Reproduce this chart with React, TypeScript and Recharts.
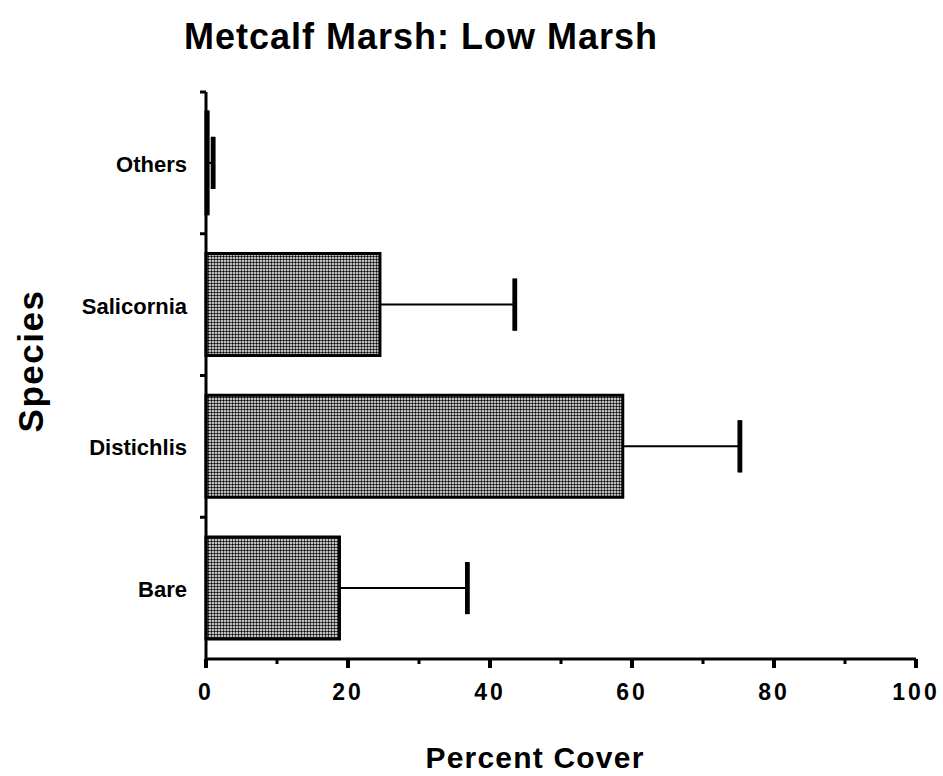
import React from 'react';
import { BarChart, Bar, XAxis, YAxis, ErrorBar } from 'recharts';

// Mean percent cover per species with the upper end of each error bar
const species = ['Others', 'Salicornia', 'Distichlis', 'Bare'];
const meanCover = [0.3, 24.5, 58.7, 18.8];
const upperCover = [1.0, 43.5, 75.2, 36.8];
const coverTicks = [0, 10, 20, 30, 40, 50, 60, 70, 80, 90, 100];

const data = species.map((name, i) => {
  const spread = upperCover[i] - meanCover[i];
  return {
    name,
    cover: meanCover[i],
    // one-sided whisker from the bar end to the upper value
    err: [0, spread],
    // zero-length range sitting on the upper value, used for the heavy end cap
    cap: [-spread, spread],
  };
});

const W = 943;
const H = 776;
const margin = { top: 92, right: 27, bottom: 77, left: 86 };
const Y_AXIS_W = 120;
const X_AXIS_H = 40;
const plotH = H - margin.top - margin.bottom - X_AXIS_H;
const bandH = plotH / species.length;
const FONT = '"Liberation Sans", Arial, Helvetica, sans-serif';

const XTick = (props: any) => {
  const { x, y, payload } = props;
  const major = payload.value % 20 === 0;
  return (
    <g>
      <line x1={x} x2={x} y1={y} y2={y + (major ? 9 : 5)} stroke="#000" strokeWidth={major ? 4 : 3} />
      {major && (
        <text
          x={x}
          y={y + 41}
          dx={0}
          textAnchor="middle"
          fontFamily={FONT}
          fontWeight="bold"
          fontSize={23}
          letterSpacing={3}
          fill="#000"
        >
          {payload.value}
        </text>
      )}
    </g>
  );
};

const YTick = (props: any) => {
  const { x, y, payload } = props;
  const top = y - bandH / 2;
  return (
    <g>
      <line x1={x - 6} x2={x} y1={top} y2={top} stroke="#000" strokeWidth={3} />
      <text
        x={x - 19}
        y={y}
        dy={9}
        textAnchor="end"
        fontFamily={FONT}
        fontWeight="bold"
        fontSize={22}
        fill="#000"
      >
        {payload.value}
      </text>
    </g>
  );
};

export default function App() {
  return (
    <div style={{ position: 'absolute', left: 0, top: 0, width: W, height: H, background: '#fff' }}>
      <BarChart width={W} height={H} data={data} layout="vertical" margin={margin} barCategoryGap="14%">
        <defs>
          <pattern id="stipple" width="3" height="3" patternUnits="userSpaceOnUse">
            <rect width="3" height="3" fill="#fff" />
            <circle cx="1.5" cy="1.5" r="1.2" fill="#000" />
          </pattern>
        </defs>
        <XAxis
          type="number"
          domain={[0, 100]}
          ticks={coverTicks}
          interval={0}
          height={X_AXIS_H}
          tickSize={0}
          tickMargin={0}
          tickLine={false}
          tick={<XTick />}
          axisLine={{ stroke: '#000', strokeWidth: 3 }}
        />
        <YAxis
          type="category"
          dataKey="name"
          width={Y_AXIS_W}
          interval={0}
          tickSize={0}
          tickMargin={0}
          tickLine={false}
          tick={<YTick />}
          axisLine={{ stroke: '#000', strokeWidth: 3 }}
        />
        <Bar dataKey="cover" fill="url(#stipple)" stroke="#000" strokeWidth={3} isAnimationActive={false}>
          <ErrorBar dataKey="err" direction="x" width={0} stroke="#000" strokeWidth={2} isAnimationActive={false} />
          <ErrorBar dataKey="cap" direction="x" width={26} stroke="#000" strokeWidth={4.5} isAnimationActive={false} />
        </Bar>
      </BarChart>
      <svg
        width={W}
        height={H}
        style={{ position: 'absolute', left: 0, top: 0, pointerEvents: 'none' }}
      >
        <text x={421} y={49} textAnchor="middle" fontFamily={FONT} fontWeight="bold" fontSize={36} letterSpacing={1} fill="#000">
          Metcalf Marsh: Low Marsh
        </text>
        <text x={535} y={768} textAnchor="middle" fontFamily={FONT} fontWeight="bold" fontSize={30} letterSpacing={1.2} fill="#000">
          Percent Cover
        </text>
        <text
          x={0}
          y={0}
          transform="translate(43 361) rotate(-90)"
          textAnchor="middle"
          fontFamily={FONT}
          fontWeight="bold"
          fontSize={35}
          letterSpacing={1.5}
          fill="#000"
        >
          Species
        </text>
      </svg>
    </div>
  );
}
